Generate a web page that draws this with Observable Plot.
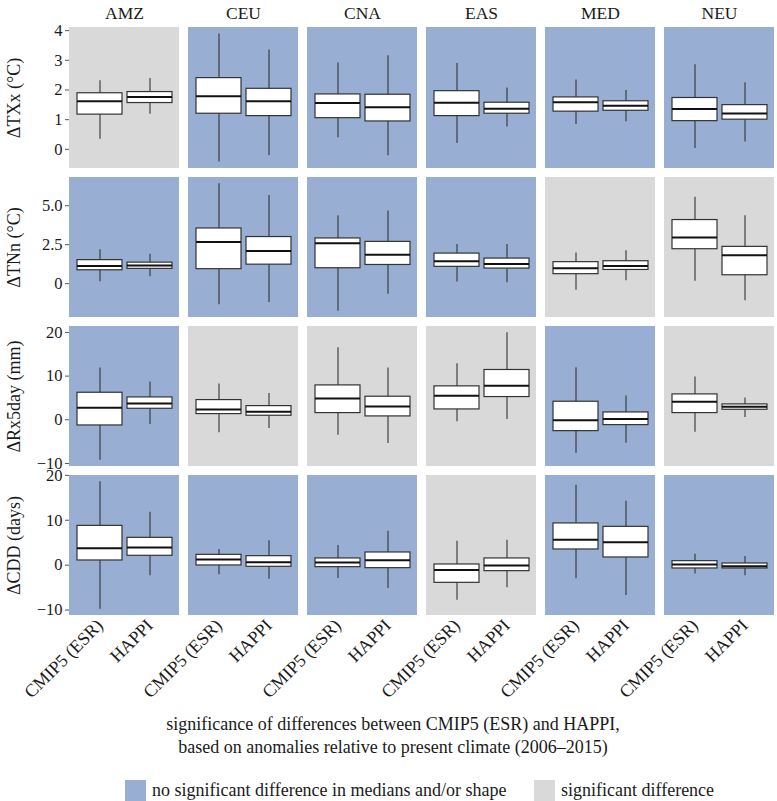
<!DOCTYPE html>
<html><head><meta charset="utf-8">
<script src="https://cdn.jsdelivr.net/npm/d3@7"></script>
<script src="https://cdn.jsdelivr.net/npm/@observablehq/plot@0.6"></script>
<style>
html,body{margin:0;padding:0;background:#fff}
body{font-family:"Liberation Serif","Times New Roman",serif;color:#1a1a1a}
#wrap{position:relative;width:777px;height:801px;overflow:hidden}
#rows svg{display:block}
.cap{position:absolute;left:0;width:786px;text-align:center;font-family:"Liberation Serif",serif;font-size:18px;line-height:23px}
.item{position:absolute;top:780px;display:flex;align-items:center;font-family:"Liberation Serif",serif;font-size:18px;line-height:21px}
.item .sw{width:21px;height:21px;display:inline-block;margin-right:6px}
</style></head><body>
<div id="wrap">
<div id="rows"></div>
<div class="cap" style="top:713px">significance of differences between CMIP5 (ESR) and HAPPI,<br>based on anomalies relative to present climate (2006–2015)</div>
</div>
<script>
const regions = ["AMZ", "CEU", "CNA", "EAS", "MED", "NEU"];
const models = ["CMIP5 (ESR)", "HAPPI"];
const varLabels = ["ΔTXx (°C)", "ΔTNn (°C)", "ΔRx5day (mm)", "ΔCDD (days)"];
const legendLabels = ["no significant difference in medians and/or shape", "significant difference"];
const colorNoSig = "#98afd3";
const colorSig = "#d9d9d9";

// five-number summaries per region: [lower whisker, Q1, median, Q3, upper whisker]
const txxCmip5 = [[0.34,1.17,1.62,1.89,2.31],[-0.43,1.20,1.79,2.40,3.89],[0.39,1.05,1.56,1.85,2.91],[0.20,1.12,1.57,1.96,2.89],[0.84,1.27,1.59,1.75,2.34],[0.03,0.95,1.36,1.73,2.85]];
const txxHappi = [[1.18,1.56,1.76,1.93,2.39],[-0.22,1.12,1.62,2.04,3.35],[-0.22,0.94,1.42,1.84,3.15],[0.75,1.20,1.37,1.57,2.07],[0.93,1.30,1.47,1.62,1.98],[0.25,1.00,1.21,1.49,2.24]];
const tnnCmip5 = [[0.13,0.86,1.14,1.51,2.17],[-1.35,0.93,2.67,3.54,6.40],[-1.76,0.99,2.60,2.90,4.36],[0.11,1.08,1.44,1.93,2.51],[-0.42,0.61,0.99,1.38,1.96],[0.15,2.21,2.96,4.08,5.54]];
const tnnHappi = [[0.45,0.95,1.16,1.35,1.89],[-1.20,1.22,2.09,2.99,5.65],[-0.68,1.20,1.85,2.68,4.66],[0.06,0.97,1.27,1.61,2.51],[0.19,0.88,1.14,1.44,2.11],[-1.09,0.54,1.83,2.36,4.36]];
const rx5Cmip5 = [[-9.24,-1.30,2.75,6.19,11.86],[-2.98,1.30,2.37,4.51,8.18],[-3.52,1.53,4.89,7.87,16.5],[-0.46,2.37,5.50,7.65,12.84],[-7.65,-2.60,-0.08,4.13,11.93],[-2.83,1.53,4.13,5.81,9.79]];
const rx5Happi = [[-1.07,2.52,3.75,5.12,8.64],[-1.99,0.92,1.83,3.13,6.04],[-5.43,0.77,3.06,5.28,11.86],[0.08,5.20,7.80,11.4,19.9],[-5.35,-1.22,0.15,1.68,5.43],[0.53,2.29,2.98,3.52,4.97]];
const cddCmip5 = [[-9.8,1.04,3.79,8.75,18.55],[-2.16,-0.07,1.26,2.30,3.49],[-2.97,-0.45,0.60,1.49,4.39],[-7.8,-3.94,-1.11,0.15,5.34],[-3.04,3.49,5.64,9.29,17.8],[-2.0,-0.74,0.15,0.89,2.45]];
const cddHappi = [[-2.38,2.08,3.94,6.08,11.8],[-3.12,-0.37,0.67,2.0,5.41],[-5.19,-0.67,1.11,2.82,7.57],[-5.05,-1.34,-0.07,1.49,5.57],[-6.75,1.71,5.12,8.53,14.25],[-2.38,-0.74,-0.22,0.37,1.94]];

// significance per region (1 = significant difference)
const sigTxx = [1,0,0,0,0,0];
const sigTnn = [0,0,0,0,1,1];
const sigRx5 = [0,1,1,1,0,1];
const sigCdd = [0,0,0,1,0,0];

// y tick values and labels per row
const ticksTxx = [0,1,2,3,4];
const tickLabelsTxx = ["0","1","2","3","4"];
const ticksTnn = [0,2.5,5];
const tickLabelsTnn = ["0","2.5","5.0"];
const ticksRx5 = [-10,0,10,20];
const tickLabelsRx5 = ["−10","0","10","20"];
const ticksCdd = [-10,0,10,20];
const tickLabelsCdd = ["−10","0","10","20"];

const rowsSpec = [
  {label: varLabels[0], cmip5: txxCmip5, happi: txxHappi, sig: sigTxx, ticks: ticksTxx, tickLabels: tickLabelsTxx},
  {label: varLabels[1], cmip5: tnnCmip5, happi: tnnHappi, sig: sigTnn, ticks: ticksTnn, tickLabels: tickLabelsTnn},
  {label: varLabels[2], cmip5: rx5Cmip5, happi: rx5Happi, sig: sigRx5, ticks: ticksRx5, tickLabels: tickLabelsRx5},
  {label: varLabels[3], cmip5: cddCmip5, happi: cddHappi, sig: sigCdd, ticks: ticksCdd, tickLabels: tickLabelsCdd}
];

const FONT = "Liberation Serif";

function rowPlot(v, i) {
  const recs = [];
  regions.forEach((r, j) => {
    models.forEach((m, k) => {
      const s = (k ? v.happi : v.cmip5)[j];
      recs.push({region: r, model: m, lo: s[0], q1: s[1], med: s[2], q3: s[3], hi: s[4]});
    });
  });
  const [mn, mx] = d3.extent(recs.flatMap(d => [d.lo, d.hi]));
  const pad = (mx - mn) * 0.05;
  const bg = regions.map((r, j) => ({region: r, sig: v.sig[j]}));
  const first = i === 0, last = i === rowsSpec.length - 1;
  const mt = first ? 27 : 5, mb = last ? 95 : 4, ph = first ? 141 : 140;
  const fmt = d => v.tickLabels[v.ticks.indexOf(d)];
  return Plot.plot({
    width: 777, height: mt + ph + mb,
    marginLeft: 67, marginRight: 0, marginTop: mt, marginBottom: mb,
    style: {fontFamily: FONT + ", serif", fontSize: "17px", color: "#1a1a1a", background: "transparent", overflow: "visible"},
    fx: {domain: regions, paddingInner: 0.075, paddingOuter: 0, axis: null, label: null},
    x: {domain: models, paddingInner: 0.1, paddingOuter: 0.15, axis: null, label: null},
    y: {domain: [mn - pad, mx + pad], axis: null, label: null},
    marks: [
      Plot.rect(bg, {fx: "region", fill: d => d.sig ? colorSig : colorNoSig}),
      Plot.ruleX(recs, {fx: "region", x: "model", y1: "lo", y2: "hi", stroke: "#333", strokeWidth: 1.1}),
      Plot.barY(recs, {fx: "region", x: "model", y1: "q1", y2: "q3", fill: "white", stroke: "#333", strokeWidth: 1.2}),
      Plot.tickY(recs, {fx: "region", x: "model", y: "med", stroke: "#111", strokeWidth: 2}),
      Plot.axisY({ticks: v.ticks, tickFormat: fmt, tickSize: 4, tickPadding: 3, stroke: "#555", fill: "#1a1a1a", fontSize: 16.5, fontFamily: FONT, label: null}),
      first ? Plot.axisFx({anchor: "top", tickSize: 0, tickPadding: 9, fontSize: 17.5, fontFamily: FONT, fill: "#1a1a1a", label: null}) : null,
      last ? Plot.axisX({anchor: "bottom", tickRotate: -45, tickSize: 0, tickPadding: 7, fontSize: 18, fontFamily: FONT, fill: "#1a1a1a", label: null}) : null,
      Plot.text([v.label], {fx: () => regions[0], frameAnchor: "left", textAnchor: "middle", rotate: -90, dx: -55, fontSize: 18, fontFamily: FONT, text: d => d, fill: "#1a1a1a"})
    ]
  });
}

const rowsEl = document.getElementById("rows");
rowsSpec.forEach((v, i) => rowsEl.appendChild(rowPlot(v, i)));

const wrap = document.getElementById("wrap");
[[colorNoSig, legendLabels[0], 125], [colorSig, legendLabels[1], 534]].forEach(([c, t, left]) => {
  const it = document.createElement("div"); it.className = "item"; it.style.left = left + "px";
  const sw = document.createElement("span"); sw.className = "sw"; sw.style.background = c;
  const tx = document.createElement("span"); tx.textContent = t;
  it.appendChild(sw); it.appendChild(tx); wrap.appendChild(it);
});
</script>
</body></html>
